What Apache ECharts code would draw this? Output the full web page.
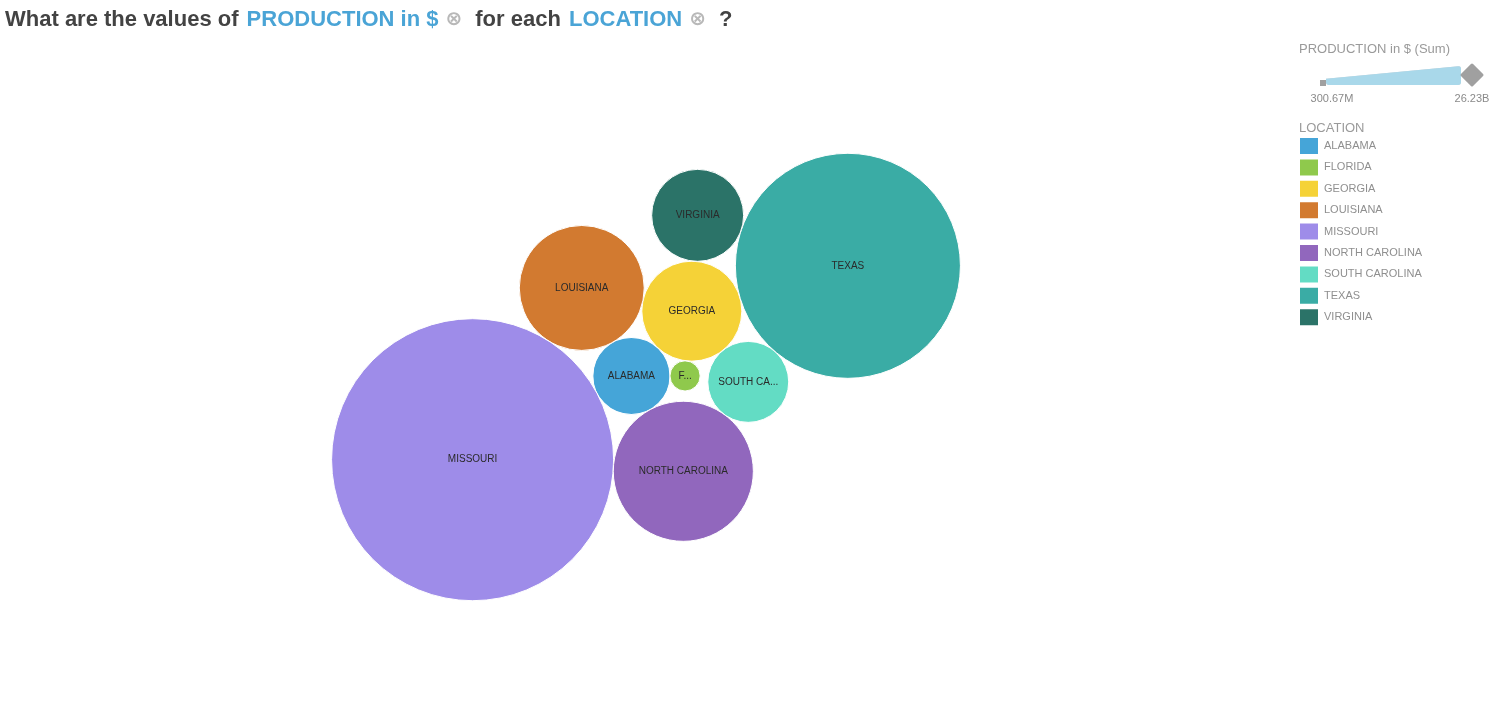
<!DOCTYPE html>
<html><head><meta charset="utf-8">
<script src="https://cdn.jsdelivr.net/npm/echarts@6/dist/echarts.min.js"></script>
<style>html,body{margin:0;padding:0;background:#fff}#c{width:1506px;height:723px}</style>
</head><body><div id="c"></div>
<script>
// ---- data ----
const categories = ['ALABAMA','FLORIDA','GEORGIA','LOUISIANA','MISSOURI','NORTH CAROLINA','SOUTH CAROLINA','TEXAS','VIRGINIA'];
const values = [1.96e9, 0.30067e9, 3.30e9, 5.15e9, 26.23e9, 6.47e9, 2.16e9, 16.70e9, 2.79e9];
const colors = ['#45a5d8','#8fc94c','#f5d237','#d27a30','#9e8ce9','#9167bd','#63dcc4','#3aaca5','#2b7368'];
const scaleLabels = ['300.67M','26.23B'];
const measureName = 'PRODUCTION in $';
const groupName = 'LOCATION';

// ---- circle packing (front-chain sibling packing, input order) ----
function packSiblings(nodes){
  const n = nodes.length;
  let xMin=Infinity,xMax=-Infinity,yMin=Infinity,yMax=-Infinity;
  function bound(d){xMin=Math.min(d.x-d.r,xMin);xMax=Math.max(d.x+d.r,xMax);yMin=Math.min(d.y-d.r,yMin);yMax=Math.max(d.y+d.r,yMax);}
  function insert(a,b){const c=a.next;a.next=b;b.prev=a;b.next=c;c.prev=b;}
  function splice(a,b){a.next=b;b.prev=a;}
  function intersects(a,b){const dx=b.x-a.x,dy=b.y-a.y,dr=a.r+b.r;return .999*dr*dr>dx*dx+dy*dy;}
  function place(a,b,c){
    let db=a.r+c.r; const dx=b.x-a.x, dy=b.y-a.y;
    if(db&&(dx||dy)){
      let da=b.r+c.r; const dc=dx*dx+dy*dy;
      da*=da; db*=db;
      const x=.5+(db-da)/(2*dc);
      const t=2*da*(db+dc); db-=dc;
      const y=Math.sqrt(Math.max(0,t-db*db-da*da))/(2*dc);
      c.x=a.x+x*dx+y*dy; c.y=a.y+x*dy-y*dx;
    } else {c.x=a.x+db;c.y=a.y;}
  }
  nodes.forEach(d=>{d.next=d.prev=d;});
  let a=nodes[0],b,c,i,j,k;
  a.x=-a.r;a.y=0;bound(a);
  if(n>1){b=nodes[1];b.x=b.r;b.y=0;bound(b);
    if(n>2){c=nodes[2];place(a,b,c);bound(c);insert(a,c);a.prev=c;insert(c,b);b=a.next;
      for(i=3;i<n;i++){
        place(a,b,c=nodes[i]);
        let isect=0,s1=1,s2=1;
        for(j=b.next;j!==b;j=j.next,s1++){ if(intersects(j,c)){isect=1;break;} }
        if(isect==1){ for(k=a.prev;k!==j.prev;k=k.prev,s2++){ if(intersects(k,c)) break; } }
        if(isect){ if(s1<s2||(s1==s2&&b.r<a.r)) splice(a,b=j); else splice(a=k,b); i--; }
        else { insert(a,c); b=c; bound(c); }
      }
    }
  }
  const cx=(xMin+xMax)/2, cy=(yMin+yMax)/2; let cr=0;
  nodes.forEach(d=>{d.x-=cx;d.y-=cy;cr=Math.max(cr,d.r+Math.sqrt(d.x*d.x+d.y*d.y));});
  return cr;
}

// layout box for the pack
const packCenter = [646, 377], packSize = 686;
const nodes = values.map(v=>({r:Math.sqrt(v)}));
const cr = packSiblings(nodes);
const kScale = packSize/(2*cr);

const FONT = 'Liberation Sans, Arial, sans-serif';
const series = categories.map((name,i)=>{
  const d = nodes[i];
  const rp = d.r*kScale;
  return {
    type:'scatter', name, silent:true,
    itemStyle:{color:colors[i], opacity:1, borderColor:'#ffffff', borderWidth:1},
    data:[{
      name,
      value:[packCenter[0]+d.x*kScale, packCenter[1]+d.y*kScale, values[i]],
      symbolSize: 2*rp,
      label:{width: Math.max(2*rp-14, 4)}
    }],
    label:{show:true, position:'inside', formatter:'{b}', color:'#2a2a2a', fontSize:10,
      fontFamily:FONT, overflow:'truncate', ellipsis:'...'},
    emphasis:{disabled:true}
  };
});
series.push({type:'scatter', name:'_scale', data:[], silent:true});

const gray = '#9a9a9a';
const option = {
  animation:false,
  backgroundColor:'#fff',
  title:[
    {left:5, top:9, padding:0, text:
      '{d|What are the values of }{b|'+measureName+'}{x|\u2297}{d|for each }{b|'+groupName+'}{x|\u2297}{d|?}',
     textStyle:{rich:{
       d:{fontSize:22, fontWeight:'bold', color:'#434343', fontFamily:FONT, padding:[0,2,0,0]},
       b:{fontSize:22, fontWeight:'bold', color:'#4aa4d6', fontFamily:FONT, padding:[0,0,0,0]},
       x:{fontSize:20, color:'#b8b8b8', fontFamily:'DejaVu Sans, sans-serif', padding:[0,13,0,7]}
     }}},
    {left:1299, top:43, padding:0, text:measureName+' (Sum)', textStyle:{fontSize:13, fontWeight:'normal', color:gray, fontFamily:FONT}},
    {left:1332, top:93, padding:0, textAlign:'center', text:scaleLabels[0], textStyle:{fontSize:11, fontWeight:'normal', color:'#8a8a8a', fontFamily:FONT}},
    {left:1472, top:93, padding:0, textAlign:'center', text:scaleLabels[1], textStyle:{fontSize:11, fontWeight:'normal', color:'#8a8a8a', fontFamily:FONT}},
    {left:1299, top:122, padding:0, text:groupName, textStyle:{fontSize:13, fontWeight:'normal', color:gray, fontFamily:FONT}}
  ],
  grid:{left:0, top:0, right:0, bottom:0},
  xAxis:{type:'value', min:0, max:1506, show:false},
  yAxis:{type:'value', min:0, max:723, inverse:true, show:false},
  legend:{
    orient:'vertical', left:1298, top:136, padding:0,
    itemWidth:20, itemHeight:18, itemGap:1.4, icon:'rect',
    data:categories,
    textStyle:{fontSize:11, color:'#8f8f8f', fontFamily:FONT},
    selectedMode:false
  },
  visualMap:{
    type:'continuous', min:values[1], max:values[4], orient:'horizontal',
    left:1326, top:66, padding:0, itemWidth:19, itemHeight:135,
    calculable:false, seriesIndex:9, text:null,
    inRange:{color:['#a9d8ea'], symbolSize:[3,19]}
  },
  graphic:[
    {type:'rect', left:1320, top:80, shape:{width:6,height:6}, style:{fill:'#a0a0a0'}, z:100},
    {type:'polygon', shape:{points:[[1472,65],[1482,75],[1472,85],[1462,75]]}, style:{fill:'#a0a0a0', stroke:'#a0a0a0', lineJoin:'round', lineWidth:3}, z:100}
  ],
  series
};
const chart = echarts.init(document.getElementById('c'), null, {renderer:'canvas'});
chart.setOption(option);
</script>
</body></html>
